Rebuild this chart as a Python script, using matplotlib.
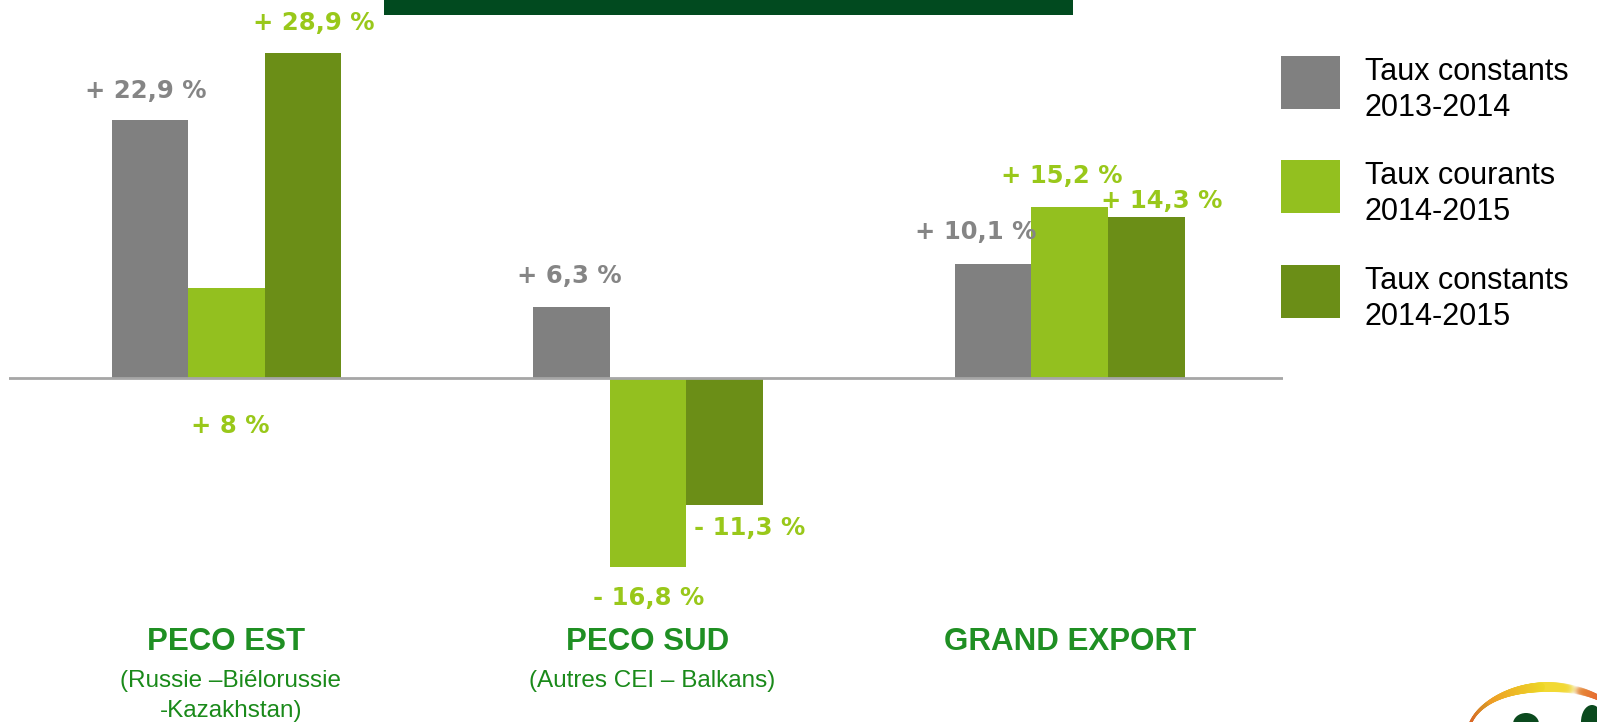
import numpy as np
import matplotlib.pyplot as plt
from matplotlib.patches import Rectangle, Ellipse
from matplotlib.collections import LineCollection

# regions and growth rates (%)
regions = ["PECO EST", "PECO SUD", "GRAND EXPORT"]
subtitles = ["(Russie \u2013Biélorussie\n-Kazakhstan)", "(Autres CEI \u2013 Balkans)", ""]
const_2013_2014 = [22.9, 6.3, 10.1]
courants_2014_2015 = [8.0, -16.8, 15.2]
const_2014_2015 = [28.9, -11.3, 14.3]
series_names = ["Taux constants\n2013-2014", "Taux courants\n2014-2015", "Taux constants\n2014-2015"]

GRAY = "#808080"
LIGHT = "#93c01f"
DARK = "#6b8e17"
LABEL_GRAY = "#858585"
LABEL_GREEN = "#99c81a"
TITLE_GREEN = "#1f8f23"

W, H = 1597, 722


def fmt(v):
    sign = "+" if v >= 0 else "-"
    txt = f"{abs(v):.1f}".replace(".", ",").replace(",0", "")
    return f"{sign} {txt} %"


def main():
    plt.rcParams["font.family"] = ["Liberation Sans", "DejaVu Sans"]
    fig = plt.figure(figsize=(W / 100, H / 100), dpi=100)

    # bar chart: axes spans the whole height, baseline sits at y=378 px
    ax = fig.add_axes([9 / W, 0, 1274 / W, 1])
    ax.set_xlim(-0.516, 2.506)
    ax.set_ylim(-(H - 378) / 11.25, 378 / 11.25)
    ax.axis("off")

    x = np.arange(len(regions))
    w = 0.1817
    series = [const_2013_2014, courants_2014_2015, const_2014_2015]
    colors = [GRAY, LIGHT, DARK]
    for i, (vals, col) in enumerate(zip(series, colors)):
        ax.bar(x + (i - 1) * w, vals, w, color=col, linewidth=0, zorder=2)
    ax.axhline(0, color="#a6a6a6", lw=2, zorder=3)

    # value labels: (dx, dy) in pixels from the bar end
    offsets = [
        [(-4, 29), (-2, 31), (-17, 32)],
        [(4, -48), (1, -31), (-8, 31)],
        [(11, 30), (25, -23), (15, 16)],
    ]
    for i, vals in enumerate(series):
        for j, v in enumerate(vals):
            dx, dy = offsets[i][j]
            y0 = 0 if (i == 1 and j == 0) else v
            ax.annotate(fmt(v), (x[j] + (i - 1) * w, y0), xytext=(dx, dy),
                        textcoords="offset pixels", ha="center", va="center",
                        fontsize=17.5, fontweight="bold", family="DejaVu Sans",
                        color=LABEL_GRAY if i == 0 else LABEL_GREEN, zorder=4)

    # region names under the chart
    for j, name in enumerate(regions):
        ax.text(x[j], (378 - 642) / 11.25, name, ha="center", va="center",
                fontsize=22.5, fontweight="bold", color=TITLE_GREEN)
        if subtitles[j]:
            ax.text(x[j] + 0.01, (378 - 670) / 11.25, subtitles[j], ha="center",
                    va="top", fontsize=17.5, color="#1a8a1a", linespacing=1.45)

    # overlay in pixel coordinates for banner, legend and logo
    ov = fig.add_axes([0, 0, 1, 1])
    ov.set_xlim(0, W)
    ov.set_ylim(H, 0)
    ov.axis("off")
    ov.patch.set_alpha(0)

    ov.add_patch(Rectangle((384, 0), 689, 15, color="#014a1f", lw=0))

    leg_y = [56, 160, 265]
    for yy, col, name in zip(leg_y, colors, series_names):
        ov.add_patch(Rectangle((1281, yy), 59, 53, color=col, lw=0))
        ov.text(1365, yy + 34, name, ha="left", va="center", fontsize=22,
                color="black", linespacing=1.22)

    # partial logo in the corner
    t = np.linspace(np.radians(35), np.radians(172), 200)
    px = 1548 + 80 * np.cos(t)
    py = 735 - 48 * np.sin(t)
    pts = np.column_stack([px, py]).reshape(-1, 1, 2)
    segs = np.concatenate([pts[:-1], pts[1:]], axis=1)
    tm = np.degrees(t[:-1])
    cols, lws = [], []
    for d in tm:
        if d > 140:
            cols.append((0.85, 0.35 + (172 - d) / 32 * 0.25, 0.15, 1))
        elif d > 95:
            f = (140 - d) / 45
            cols.append((0.93, 0.6 + 0.25 * f, 0.15, 1))
        elif d > 70:
            a = max(0.0, 1 - (95 - d) / 25)
            cols.append((0.95, 0.85, 0.2, a))
        else:
            a = min(1.0, (70 - d) / 20)
            cols.append((0.9, 0.55 - 0.15 * a, 0.2, a))
        lws.append(2 + 5 * np.sin(np.radians(d)) ** 4)
    ov.add_collection(LineCollection(segs, colors=cols, linewidths=lws, capstyle="round"))
    ov.add_patch(Ellipse((1526, 724), 26, 22, color="#0b4a1e", lw=0))
    ov.add_patch(Ellipse((1592, 722), 22, 34, color="#0b4a1e", lw=0))

    fig.savefig("out.png", dpi=100)


if __name__ == "__main__":
    main()
